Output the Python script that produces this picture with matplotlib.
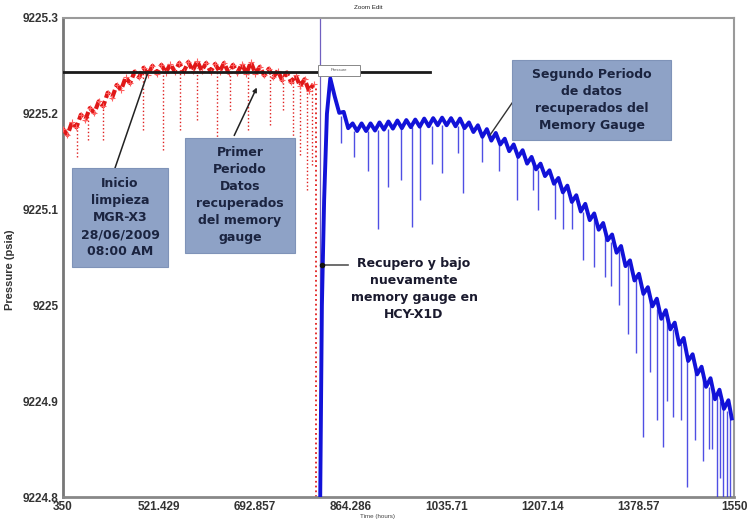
import matplotlib
matplotlib.use("Agg")
import matplotlib.pyplot as plt
from matplotlib.patches import Rectangle

plt.rcParams['font.family'] = ['Liberation Sans', 'DejaVu Sans']

# ---------------- data ----------------
red_t = [350, 358, 366, 374, 382, 390, 398, 406, 414, 422, 430, 438, 446, 454, 462, 470,
         478, 486, 494, 502, 510, 518, 526, 534, 542, 550, 558, 566, 574, 582, 590, 598,
         606, 614, 622, 630, 638, 646, 654, 662, 670, 678, 686, 694, 702, 710, 718, 726,
         734, 742, 750, 758, 766, 774, 782, 790, 798]
red_p = [9225.184, 9225.178, 9225.191, 9225.186, 9225.199, 9225.194, 9225.206, 9225.201,
         9225.213, 9225.208, 9225.222, 9225.217, 9225.230, 9225.225, 9225.238, 9225.232,
         9225.244, 9225.238, 9225.248, 9225.241, 9225.250, 9225.242, 9225.251, 9225.243,
         9225.252, 9225.244, 9225.253, 9225.244, 9225.254, 9225.245, 9225.255, 9225.245,
         9225.253, 9225.244, 9225.252, 9225.244, 9225.253, 9225.243, 9225.251, 9225.243,
         9225.252, 9225.242, 9225.254, 9225.242, 9225.249, 9225.240, 9225.247, 9225.238,
         9225.245, 9225.235, 9225.243, 9225.233, 9225.240, 9225.229, 9225.236, 9225.224,
         9225.231]
red_spike_t = [375, 395, 421, 493, 529, 559, 590, 625, 649, 681, 720, 743, 761, 774, 786, 795]
red_spike_top = [9225.188, 9225.200, 9225.210, 9225.244, 9225.246, 9225.247, 9225.248, 9225.248,
                 9225.247, 9225.246, 9225.243, 9225.240, 9225.238, 9225.234, 9225.231, 9225.228]
red_spike_low = [9225.155, 9225.173, 9225.173, 9225.183, 9225.162, 9225.183, 9225.194, 9225.173,
                 9225.204, 9225.183, 9225.188, 9225.204, 9225.162, 9225.157, 9225.120, 9225.147]
red_drop_t = 802.4
red_drop_top = 9225.227

blue_t = [810, 813, 817, 822, 828, 836, 844, 852, 860, 868, 876, 884, 892, 900, 908, 916,
          924, 932, 940, 948, 956, 964, 972, 980, 988, 996, 1004, 1012, 1020, 1028, 1036,
          1044, 1052, 1060, 1068, 1076, 1084, 1092, 1100, 1108, 1116, 1124, 1132, 1140,
          1148, 1156, 1164, 1172, 1180, 1188, 1196, 1204, 1212, 1220, 1228, 1236, 1244,
          1252, 1260, 1268, 1276, 1284, 1292, 1300, 1308, 1316, 1324, 1332, 1340, 1348,
          1356, 1364, 1372, 1380, 1388, 1396, 1404, 1412, 1420, 1428, 1436, 1444, 1452,
          1460, 1468, 1476, 1484, 1492, 1500, 1508, 1516, 1524, 1532, 1540, 1546]
blue_p = [9224.800, 9225.000, 9225.110, 9225.200, 9225.237, 9225.218, 9225.201, 9225.202,
          9225.185, 9225.190, 9225.182, 9225.190, 9225.182, 9225.190, 9225.1825, 9225.191,
          9225.1835, 9225.192, 9225.1845, 9225.193, 9225.185, 9225.1935, 9225.186, 9225.194,
          9225.1865, 9225.195, 9225.187, 9225.1955, 9225.188, 9225.196, 9225.188, 9225.1955,
          9225.187, 9225.195, 9225.185, 9225.191, 9225.181, 9225.188, 9225.176, 9225.184,
          9225.172, 9225.180, 9225.168, 9225.174, 9225.161, 9225.168, 9225.155, 9225.162,
          9225.148, 9225.155, 9225.142, 9225.148, 9225.135, 9225.141, 9225.127, 9225.133,
          9225.118, 9225.125, 9225.108, 9225.115, 9225.098, 9225.106, 9225.089, 9225.096,
          9225.079, 9225.086, 9225.068, 9225.074, 9225.055, 9225.062, 9225.041, 9225.047,
          9225.026, 9225.033, 9225.012, 9225.019, 9224.999, 9225.007, 9224.986, 9224.995,
          9224.975, 9224.982, 9224.959, 9224.966, 9224.942, 9224.949, 9224.928, 9224.936,
          9224.915, 9224.924, 9224.902, 9224.912, 9224.892, 9224.901, 9224.882]
blue_spike_t = [848, 870, 895, 913, 931, 955, 974, 988, 1010, 1028, 1056, 1065, 1100, 1130,
                1162, 1190, 1200, 1230, 1245, 1260, 1280, 1300, 1320, 1330, 1345, 1360, 1375,
                1387, 1400, 1412, 1423, 1430, 1441, 1455, 1466, 1480, 1495, 1505, 1510, 1520,
                1525, 1530, 1538, 1543]
blue_spike_top = [9225.198, 9225.182, 9225.182, 9225.183, 9225.184, 9225.185, 9225.186, 9225.186,
                  9225.187, 9225.188, 9225.187, 9225.186, 9225.177, 9225.170, 9225.156, 9225.150,
                  9225.141, 9225.130, 9225.119, 9225.110, 9225.098, 9225.090, 9225.078, 9225.066,
                  9225.058, 9225.044, 9225.030, 9225.015, 9225.006, 9224.996, 9224.988, 9224.988,
                  9224.975, 9224.960, 9224.948, 9224.940, 9224.922, 9224.915, 9224.911, 9224.904,
                  9224.900, 9224.896, 9224.890, 9224.888]
blue_spike_low = [9225.170, 9225.155, 9225.140, 9225.080, 9225.124, 9225.131, 9225.082, 9225.110,
                  9225.148, 9225.138, 9225.159, 9225.117, 9225.150, 9225.140, 9225.110, 9225.120,
                  9225.100, 9225.090, 9225.080, 9225.080, 9225.047, 9225.040, 9225.030, 9225.020,
                  9225.000, 9224.970, 9224.950, 9224.863, 9224.930, 9224.880, 9224.852, 9224.900,
                  9224.883, 9224.880, 9224.810, 9224.860, 9224.838, 9224.850, 9224.850, 9224.800,
                  9224.820, 9224.800, 9224.800, 9224.800]
cursor_t = 809.6
ref_level = 9225.244
ref_end_t = 1006

x_ticks = [350, 521.429, 692.857, 864.286, 1035.71, 1207.14, 1378.57, 1550]
x_labels = ["350", "521.429", "692.857", "864.286", "1035.71", "1207.14", "1378.57", "1550"]
y_ticks = [9224.8, 9224.9, 9225.0, 9225.1, 9225.2, 9225.3]
y_labels = ["9224.8", "9224.9", "9225", "9225.1", "9225.2", "9225.3"]

# ---------------- figure ----------------
fig = plt.figure(figsize=(7.49, 5.21), dpi=100)
ax = fig.add_axes([63/749, 1-497/521, 671/749, 479/521])
ax.set_xlim(350, 1550)
ax.set_ylim(9224.8, 9225.3)

# reference horizontal line
ax.plot([350, ref_end_t], [ref_level, ref_level], color='#1a1a1a', lw=2, zorder=4)

# red first period
ax.vlines(red_spike_t, red_spike_low, red_spike_top, colors='#e02020', linestyles=':', lw=1.0, zorder=2)
ax.plot(red_t, red_p, color='#e01818', lw=3.0, ls=(0, (2.0, 0.8)), zorder=3)
ax.plot(red_t, red_p, color='#ff6060', lw=0, marker='+', ms=4, mew=0.8, zorder=3)
ax.vlines([red_drop_t], [9224.8], [red_drop_top], colors='#e02020', linestyles=':', lw=1.3, zorder=2)

# cursor line
ax.axvline(cursor_t, color='#7060c0', lw=0.9, zorder=1)

# blue second period
ax.vlines(blue_spike_t, blue_spike_low, blue_spike_top, colors='#3030e0', lw=1.0, alpha=0.85, zorder=3)
ax.plot(blue_t, blue_p, color='#1212d8', lw=2.8, zorder=4)

# small legend-like box
ax.add_patch(Rectangle((0.380, 0.879), 0.0626, 0.023, transform=ax.transAxes,
                       facecolor='white', edgecolor='#888888', lw=0.7, zorder=6))
ax.text(0.411, 0.8905, "Pressure", transform=ax.transAxes, fontsize=3,
        ha='center', va='center', color='#555555', zorder=7)

# axes styling
ax.set_xticks(x_ticks)
ax.set_xticklabels(x_labels)
ax.set_yticks(y_ticks)
ax.set_yticklabels(y_labels)
ax.tick_params(length=0, pad=3, labelsize=8.5, labelcolor='#333333')
for lab in ax.get_xticklabels() + ax.get_yticklabels():
    lab.set_fontweight('bold')
for s in ax.spines.values():
    s.set_color('#9a9a9a')
    s.set_linewidth(1.5)
ax.spines['left'].set_color('#777777')
ax.spines['left'].set_linewidth(2)
ax.spines['bottom'].set_color('#888888')
ax.spines['bottom'].set_linewidth(2)

fig.text(10/749, 1-270/521, "Pressure (psia)", rotation=90, fontsize=8, fontweight='bold',
         ha='center', va='center', color='#333333')
ax.text(0.469, -0.040, "Time (hours)", transform=ax.transAxes, fontsize=4.5,
        ha='center', va='center', color='#444444')
ax.text(0.4545, 1.021, "Zoom Edit", transform=ax.transAxes, fontsize=4.5,
        ha='center', va='center', color='#222222')

# annotation boxes
box_color = '#8ea2c6'
txt_color = '#1b2440'
boxes = [
    ((0.0134, 0.480, 0.143, 0.2067), "Inicio\nlimpieza\nMGR-X3\n28/06/2009\n08:00 AM"),
    ((0.1818, 0.5094, 0.1639, 0.2401), "Primer\nPeriodo\nDatos\nrecuperados\ndel memory\ngauge"),
    ((0.6692, 0.7453, 0.237, 0.167), "Segundo Periodo\nde datos\nrecuperados del\nMemory Gauge"),
]
for (x0, y0, w, h), txt in boxes:
    ax.add_patch(Rectangle((x0, y0), w, h, transform=ax.transAxes, facecolor=box_color,
                           edgecolor='#7f93b8', lw=0.8, zorder=8))
    ax.text(x0 + w/2, y0 + h/2, txt, transform=ax.transAxes, ha='center', va='center',
            fontsize=9, fontweight='bold', family='DejaVu Sans', color=txt_color,
            linespacing=1.4, zorder=9)

# connector lines
ax.plot([0.0775, 0.1267], [0.6868, 0.8873], transform=ax.transAxes, color='#222222', lw=1.1, zorder=7)
ax.annotate("", xy=(0.2906, 0.8601), xytext=(0.2534, 0.7495), xycoords='axes fraction',
            arrowprops=dict(arrowstyle='-|>', color='#222222', lw=1.1, mutation_scale=6), zorder=7)
ax.plot([0.6692, 0.6364], [0.8225, 0.7557], transform=ax.transAxes, color='#333333', lw=1.0, zorder=7)
ax.plot([0.4247, 0.386], [0.4843, 0.4843], transform=ax.transAxes, color='#555555', lw=1.2, zorder=7)
ax.plot([0.386], [0.4843], transform=ax.transAxes, marker='o', ms=3, color='#111111', zorder=8)

ax.text(0.5231, 0.4342, "Recupero y bajo\nnuevamente\nmemory gauge en\nHCY-X1D", transform=ax.transAxes,
        ha='center', va='center', fontsize=9, fontweight='bold', family='DejaVu Sans',
        color='#1a1a2e', linespacing=1.4, zorder=9)

fig.savefig("out.png", dpi=100)
